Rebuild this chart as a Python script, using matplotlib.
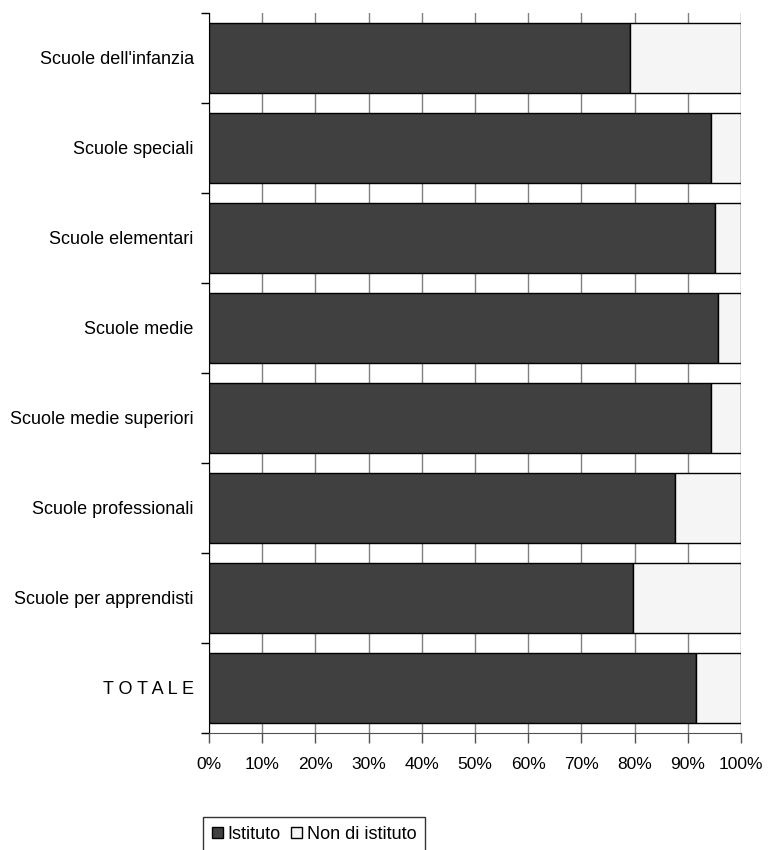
from matplotlib import pyplot as plt
import numpy as np

plt.rcParams['font.family'] = ['Liberation Sans', 'DejaVu Sans']

#%% Data
categorie = ["Scuole dell'infanzia", "Scuole speciali", "Scuole elementari",
             "Scuole medie", "Scuole medie superiori", "Scuole professionali",
             "Scuole per apprendisti", "T O T A L E"]
istituto = [79.2, 94.4, 95.1, 95.7, 94.4, 87.6, 79.7, 91.5]
non_istituto = [20.8, 5.6, 4.9, 4.3, 5.6, 12.4, 20.3, 8.5]
x_ticks = np.arange(0, 101, 10)

#%% Plot
fig = plt.figure(figsize=(7.68, 8.5), dpi=100)
ax = fig.add_axes([209/768, 1 - 733/850, 532/768, 720/850])

y = np.arange(len(categorie))
h = 0.77
b1 = ax.barh(y, istituto, height=h, color='#404040', edgecolor='black', linewidth=1.0,
             label='Istituto', zorder=3)
b2 = ax.barh(y, non_istituto, left=istituto, height=h, color='#f5f5f5', edgecolor='black',
             linewidth=1.0, label='Non di istituto', zorder=3)

ax.set_xlim(0, 100)
ax.set_ylim(len(categorie) - 0.5, -0.5)

# x axis
ax.set_xticks(x_ticks)
ax.set_xticklabels([f'{v}%' for v in x_ticks], fontsize=12.5)
ax.tick_params(axis='x', direction='out', length=7, width=1, color='#505050', pad=10)
ax.xaxis.grid(True, color='#808080', linewidth=1, zorder=0)

# y axis: ticks on boundaries, labels on centres
ax.set_yticks(np.arange(-0.5, len(categorie), 1))
ax.set_yticklabels([])
ax.tick_params(axis='y', which='major', direction='out', length=6, width=1, color='black')
ax.set_yticks(y, minor=True)
ax.set_yticklabels(categorie, minor=True, fontsize=13)
ax.tick_params(axis='y', which='minor', length=0, pad=11)

for s in ['top', 'right']:
    ax.spines[s].set_visible(False)
ax.spines['left'].set_color('black')
ax.spines['bottom'].set_color('#505050')

leg = fig.legend(handles=[b1, b2], loc='upper left', bbox_to_anchor=(203/768, 1 - 817/850),
                 ncol=2, fontsize=13, frameon=True, fancybox=False, edgecolor='black',
                 handlelength=0.6, handleheight=0.6, handletextpad=0.25, columnspacing=0.6,
                 borderpad=0.5, borderaxespad=0)
leg.get_frame().set_linewidth(1)

plt.savefig('out.png', dpi=100)
